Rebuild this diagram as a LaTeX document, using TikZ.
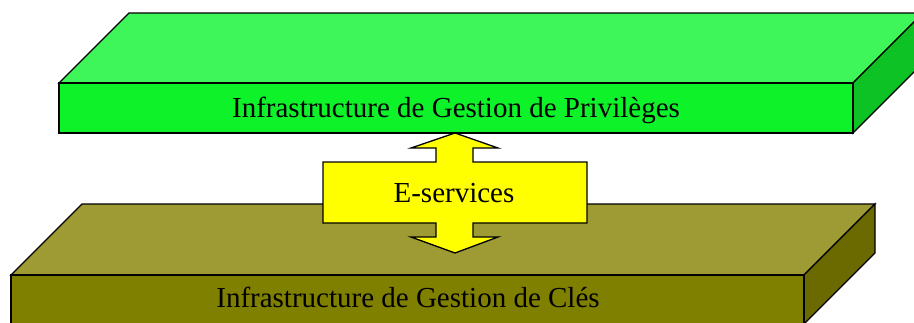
\documentclass[tikz,border=0pt]{standalone}
\usepackage{fontspec}
\setmainfont{Liberation Serif}
\definecolor{greenTop}{HTML}{3FF65A}
\definecolor{greenFront}{HTML}{0EF22A}
\definecolor{greenSide}{HTML}{0CC224}
\definecolor{oliveTop}{HTML}{9E9A34}
\definecolor{oliveFront}{HTML}{808000}
\definecolor{oliveSide}{HTML}{6B6A00}
\definecolor{arrowYellow}{HTML}{FFFF00}
\tikzset{
  face/.style={draw=black, line width=1.3pt, line join=miter},
  label/.style={font=\fontsize{29}{32}\selectfont, anchor=base, inner sep=0pt}
}
\begin{document}
\begin{tikzpicture}[x=1pt, y=-1pt]
  \useasboundingbox (0,0) rectangle (914,322);
  \clip (0,0) rectangle (914,322);

  % lower slab: public key infrastructure
  \coordinate (kfl) at (11,275);  \coordinate (kfr) at (804,275);
  \coordinate (kbl) at (82,204);  \coordinate (kbr) at (875,204);
  \draw[face, fill=oliveTop] (kfl) -- (kbl) -- (kbr) -- (kfr) -- cycle;
  \draw[face, fill=oliveSide] (kfr) -- (kbr) -- ++(0,49) -- ++(-71,71) -- cycle;
  \draw[face, fill=oliveFront] (kfl) rectangle ++(793,49);
  \node[label] (cles) at (408,307) {Infrastructure de Gestion de Clés};

  % upper slab: privilege management infrastructure
  \coordinate (pfl) at (59,83);  \coordinate (pfr) at (853,83);
  \coordinate (pbl) at (129,13); \coordinate (pbr) at (923,13);
  \draw[face, fill=greenTop] (pfl) -- (pbl) -- (pbr) -- (pfr) -- cycle;
  \draw[face, fill=greenSide] (pfr) -- (pbr) -- ++(0,50) -- ++(-70,70) -- cycle;
  \draw[face, fill=greenFront] (pfl) rectangle ++(794,50);
  \node[label] (privileges) at (456,117) {Infrastructure de Gestion de Privilèges};

  % double-headed arrow between the two layers
  \draw[face, fill=arrowYellow]
    (455,133) -- (498,148) -- (473,148) -- (473,162) -- (587,162) -- (587,223)
    -- (473,223) -- (473,237) -- (498,237) -- (455,253) -- (411,237) -- (436,237)
    -- (436,223) -- (323,223) -- (323,162) -- (436,162) -- (436,148) -- (411,148)
    -- cycle;
  \node[label] (eservices) at (454,202) {E-services};
\end{tikzpicture}
\end{document}
